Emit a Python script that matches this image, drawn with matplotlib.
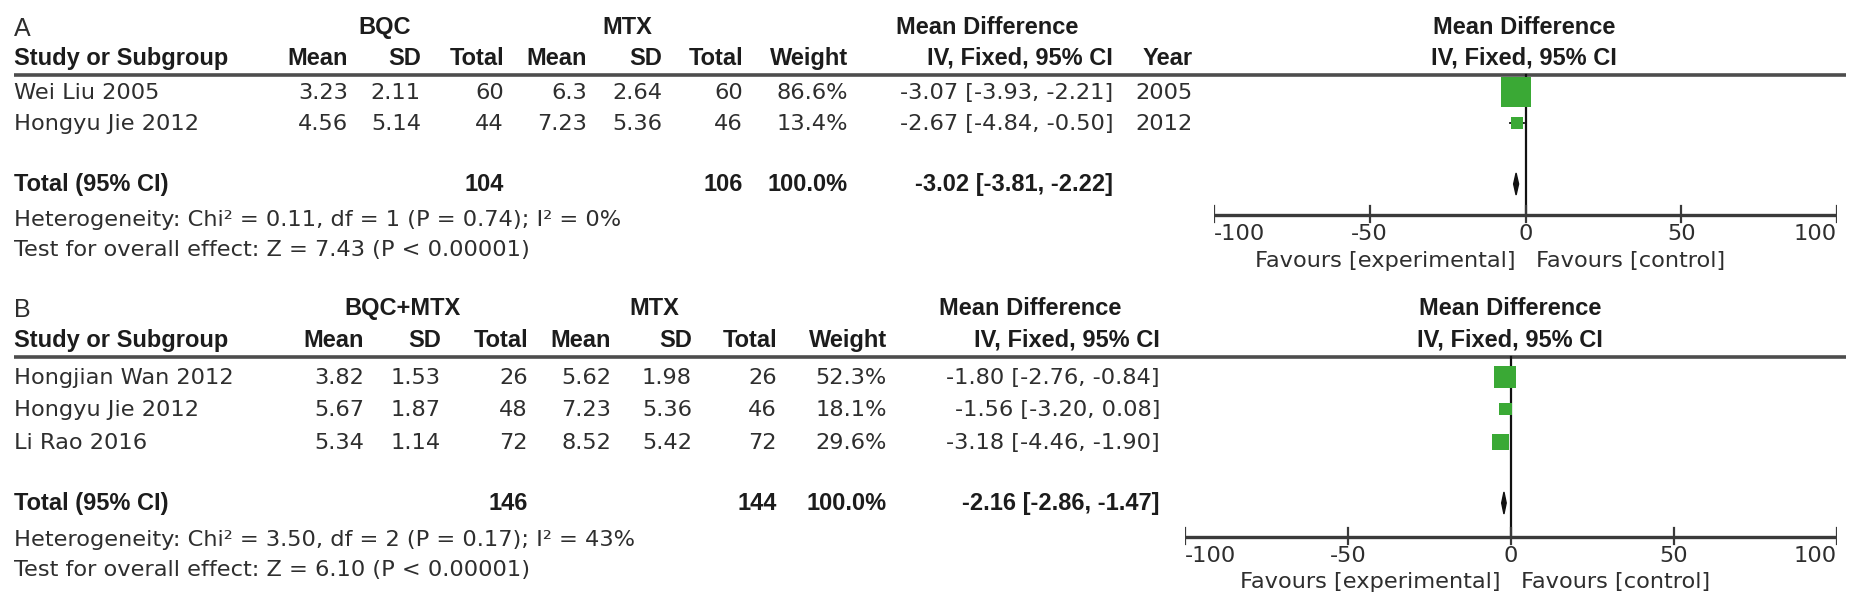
import matplotlib
matplotlib.use("Agg")
import matplotlib.pyplot as plt
from matplotlib.patches import Polygon
import numpy as np

# ---------------- data ----------------
# Panel A
A_studies = ["Wei Liu 2005", "Hongyu Jie 2012"]
A_exp_mean = [3.23, 4.56]
A_exp_sd = [2.11, 5.14]
A_exp_n = [60, 44]
A_ctl_mean = [6.3, 7.23]
A_ctl_sd = [2.64, 5.36]
A_ctl_n = [60, 46]
A_weight = [86.6, 13.4]
A_md = [-3.07, -2.67]
A_lo = [-3.93, -4.84]
A_hi = [-2.21, -0.50]
A_year = [2005, 2012]
A_tot_exp_n = 104
A_tot_ctl_n = 106
A_tot_md = -3.02
A_tot_lo = -3.81
A_tot_hi = -2.22
A_het = "Heterogeneity: Chi\u00b2 = 0.11, df = 1 (P = 0.74); I\u00b2 = 0%"
A_test = "Test for overall effect: Z = 7.43 (P < 0.00001)"
A_groups = ["BQC", "MTX"]

# Panel B
B_studies = ["Hongjian Wan 2012", "Hongyu Jie 2012", "Li Rao 2016"]
B_exp_mean = [3.82, 5.67, 5.34]
B_exp_sd = [1.53, 1.87, 1.14]
B_exp_n = [26, 48, 72]
B_ctl_mean = [5.62, 7.23, 8.52]
B_ctl_sd = [1.98, 5.36, 5.42]
B_ctl_n = [26, 46, 72]
B_weight = [52.3, 18.1, 29.6]
B_md = [-1.80, -1.56, -3.18]
B_lo = [-2.76, -3.20, -4.46]
B_hi = [-0.84, 0.08, -1.90]
B_tot_exp_n = 146
B_tot_ctl_n = 144
B_tot_md = -2.16
B_tot_lo = -2.86
B_tot_hi = -1.47
B_het = "Heterogeneity: Chi\u00b2 = 3.50, df = 2 (P = 0.17); I\u00b2 = 43%"
B_test = "Test for overall effect: Z = 6.10 (P < 0.00001)"
B_groups = ["BQC+MTX", "MTX"]

tick_values = [-100, -50, 0, 50, 100]
tick_labels = ["-100", "-50", "0", "50", "100"]

# ---------------- style ----------------
W, H = 1864, 615
DPI = 100
GREEN = "#3aa935"
TXT = "#2e2e2e"
BODY = dict(family="DejaVu Sans", fontsize=16.2, color=TXT)
BOLD = dict(family="Liberation Sans", fontsize=17, fontweight="bold", color="#1c1c1c")
BL = 7  # baseline offset from visual centre (px)

fig = plt.figure(figsize=(W / DPI, H / DPI), dpi=DPI)
fig.patch.set_facecolor("white")
ax = fig.add_axes([0, 0, 1, 1])
ax.set_xlim(0, W)
ax.set_ylim(H, 0)
ax.axis("off")


def t(x, y, s, ha="left", bold=False, **kw):
    st = dict(BOLD if bold else BODY)
    st.update(kw)
    ax.text(x, y + BL, s, ha=ha, va="baseline", **st)


def fmt_ci(m, lo, hi):
    return f"{m:.2f} [{lo:.2f}, {hi:.2f}]"


def panel(label, groups, studies, em, es, en, cm, cs, cn, wt, md, lo, hi, years,
          tot_en, tot_cn, tot_md, tot_lo, tot_hi, het, test,
          geo):
    (y_grp, y_col, y_line, y_rows, y_tot, y_het, y_test,
     cols, grp_c, md_c, f_left, f_right, f_zero_hdr, y_axis, y_fav, sq_k) = geo
    # panel label
    ax.text(14, y_grp + 9, label, ha="left", va="baseline",
            family="Liberation Sans", fontsize=18, color=TXT)
    # group headers
    t(grp_c[0], y_grp, groups[0], ha="center", bold=True)
    t(grp_c[1], y_grp, groups[1], ha="center", bold=True)
    t(md_c, y_grp, "Mean Difference", ha="center", bold=True)
    t(f_zero_hdr, y_grp, "Mean Difference", ha="center", bold=True)
    # column headers
    t(14, y_col, "Study or Subgroup", bold=True)
    hdrs = ["Mean", "SD", "Total", "Mean", "SD", "Total", "Weight", "IV, Fixed, 95% CI"]
    for x, h in zip(cols[:8], hdrs):
        t(x, y_col, h, ha="right", bold=True)
    if years is not None:
        t(cols[8], y_col, "Year", ha="right", bold=True)
    t(f_zero_hdr, y_col, "IV, Fixed, 95% CI", ha="center", bold=True)
    # header rule
    ax.plot([14, 1846], [y_line, y_line], color="#4d4d4d", lw=2.6,
            solid_capstyle="butt")
    # rows
    for i, s in enumerate(studies):
        y = y_rows[i]
        t(14, y, s)
        vals = [f"{em[i]:g}", f"{es[i]:.2f}", f"{en[i]}", f"{cm[i]:g}",
                f"{cs[i]:.2f}", f"{cn[i]}", f"{wt[i]:.1f}%", fmt_ci(md[i], lo[i], hi[i])]
        for x, v in zip(cols[:8], vals):
            t(x, y, v, ha="right")
        if years is not None:
            t(cols[8], y, str(years[i]), ha="right")
    # total
    t(14, y_tot, "Total (95% CI)", bold=True)
    t(cols[2], y_tot, str(tot_en), ha="right", bold=True)
    t(cols[5], y_tot, str(tot_cn), ha="right", bold=True)
    t(cols[6], y_tot, f"{sum(wt):.1f}%", ha="right", bold=True)
    t(cols[7], y_tot, fmt_ci(tot_md, tot_lo, tot_hi), ha="right", bold=True)
    t(14, y_het, het)
    t(14, y_test, test)

    # forest axes (data units in x, pixels in y)
    fa = fig.add_axes([f_left / W, 0, (f_right - f_left) / W, 1])
    fa.set_xlim(-100, 100)
    fa.set_ylim(H, 0)
    fa.axis("off")
    fa.plot([0, 0], [y_line, y_axis], color="#111111", lw=1.6, zorder=1)
    for i in range(len(studies)):
        fa.plot([lo[i], hi[i]], [y_rows[i], y_rows[i]], color="#111111", lw=1.3, zorder=2)
        side = sq_k * np.sqrt(wt[i])
        fa.scatter([md[i]], [y_rows[i]], marker="s", s=(side * 72 / DPI) ** 2,
                   color=GREEN, edgecolors="none", zorder=3)
    dh = 11
    fa.add_patch(Polygon([[tot_lo, y_tot], [tot_md, y_tot - dh], [tot_hi, y_tot],
                          [tot_md, y_tot + dh]], closed=True, color="#111111", zorder=3))
    fa.plot([-100, 100], [y_axis, y_axis], color="#3a3a3a", lw=2.4, zorder=1,
            solid_capstyle="butt")
    for tv, tl in zip(tick_values, tick_labels):
        fa.plot([tv, tv], [y_axis - 9, y_axis + 7], color="#3a3a3a", lw=1.6)
        ha = "left" if tv == tick_values[0] else ("right" if tv == tick_values[-1] else "center")
        fa.text(tv, y_axis + 25, tl, ha=ha, va="baseline", **BODY)
    px_unit = (f_right - f_left) / 200.0
    off = 10 / px_unit
    fa.text(-off, y_fav + BL, "Favours [experimental]", ha="right", va="baseline", **BODY)
    fa.text(off, y_fav + BL, "Favours [control]", ha="left", va="baseline", **BODY)


geoA = (27, 58, 75, [92, 123], 184, 219, 249,
        [348, 421, 504, 587, 662, 743, 848, 1113, 1193],
        [385, 627], 987, 1214, 1837, 1524, 215, 260, 3.3)
panel("A", A_groups, A_studies, A_exp_mean, A_exp_sd, A_exp_n, A_ctl_mean, A_ctl_sd,
      A_ctl_n, A_weight, A_md, A_lo, A_hi, A_year, A_tot_exp_n, A_tot_ctl_n,
      A_tot_md, A_tot_lo, A_tot_hi, A_het, A_test, geoA)

geoB = (308, 340, 357, [377, 409, 442], 503, 539, 569,
        [364, 441, 528, 611, 692, 777, 887, 1160],
        [402, 654], 1030, 1185, 1837, 1510, 537, 581, 3.05)
panel("B", B_groups, B_studies, B_exp_mean, B_exp_sd, B_exp_n, B_ctl_mean, B_ctl_sd,
      B_ctl_n, B_weight, B_md, B_lo, B_hi, None, B_tot_exp_n, B_tot_ctl_n,
      B_tot_md, B_tot_lo, B_tot_hi, B_het, B_test, geoB)

fig.savefig("out.png", dpi=DPI, facecolor="white")
